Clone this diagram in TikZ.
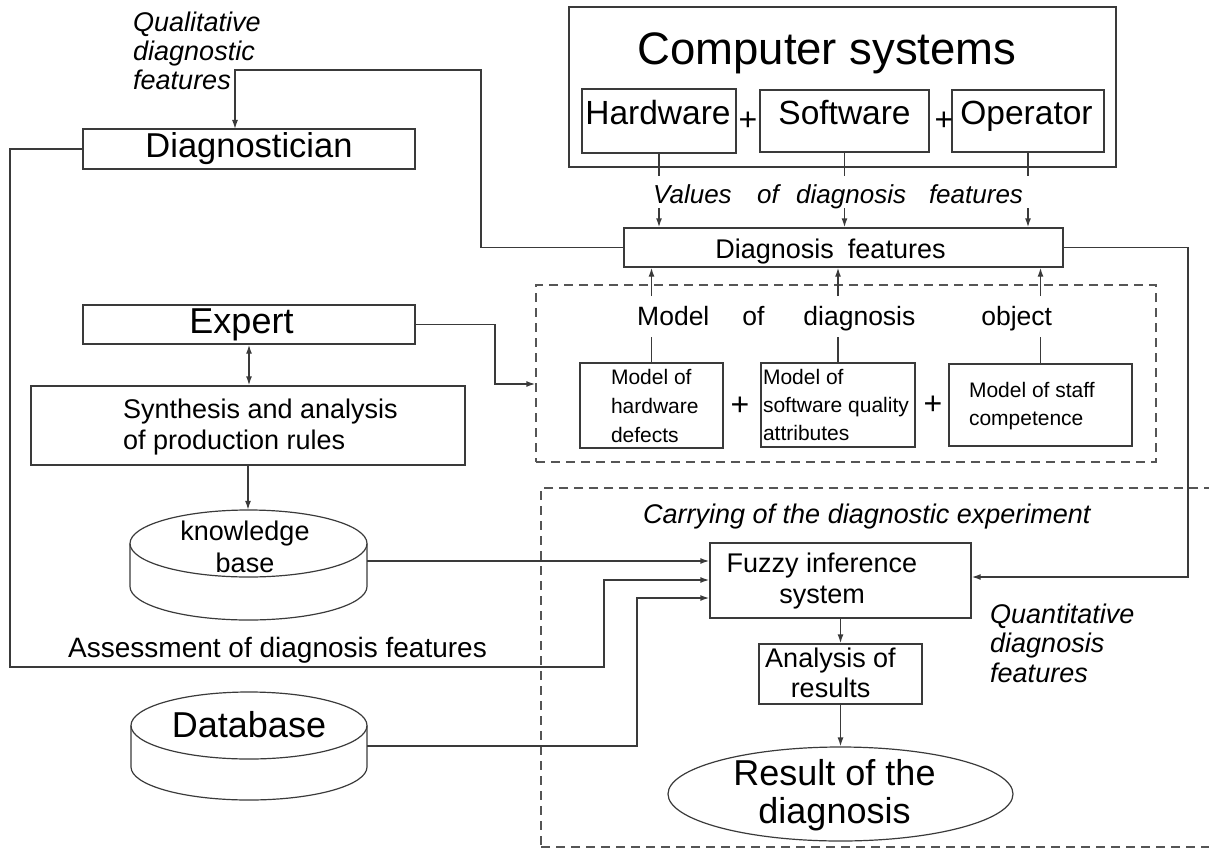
\documentclass[tikz,border=0pt]{standalone}
\usepackage{fontspec}
\setmainfont{Liberation Sans}
\usetikzlibrary{arrows.meta,shapes.geometric}
\definecolor{linec}{HTML}{3A3A3A}
\definecolor{dashc}{HTML}{555555}
\newcommand\ctxt[3]{\makebox[0pt][c]{\hspace*{#1}\hspace*{#1}\raisebox{-#2}[0pt][0pt]{#3}}}
\newcommand\ltxt[3]{\makebox[0pt][l]{\hspace*{#1}\raisebox{-#2}[0pt][0pt]{#3}}}
\newcommand\mlines[2]{\begin{tabular}[t]{@{}#1@{}}#2\end{tabular}}
\newcommand\setfs[2]{\fontsize{#1}{#2}\selectfont}
\tikzset{
  box/.style={draw=linec, line width=1.4pt, rectangle, inner sep=0pt},
  arr/.style={draw=linec, line width=1.4pt, -{Latex[length=9pt,width=6pt]}},
  darr/.style={draw=linec, line width=1.4pt, {Latex[length=9pt,width=6pt]}-{Latex[length=9pt,width=6pt]}},
  ln/.style={draw=linec, line width=1.4pt},
  dbox/.style={draw=dashc, line width=1.4pt, dash pattern=on 9pt off 6pt, rectangle, inner sep=0pt},
  lbl/.style={inner sep=0pt, anchor=base west},
  plus/.style={inner sep=0pt, font=\setfs{32}{34}},
}
\begin{document}
\begin{tikzpicture}[x=1pt,y=-1pt]
\useasboundingbox (0,0) rectangle (1209,848);
\clip (0,0) rectangle (1209,848);
% Computer systems
\node[box, minimum width=547, minimum height=160, font=\setfs{45.5}{50}] (cs) at (842.5,87) {\ctxt{-15.5pt}{-22pt}{Computer systems}};
\node[box, minimum width=154, minimum height=64, font=\setfs{33.5}{36}] (hw) at (659,121) {\ctxt{-1pt}{4pt}{Hardware}};
\node[box, minimum width=169, minimum height=62, font=\setfs{33.5}{36}] (sw) at (844.5,121) {\ctxt{0pt}{4pt}{Software}};
\node[box, minimum width=152, minimum height=62, font=\setfs{33.5}{36}] (op) at (1028,121) {\ctxt{-1.5pt}{4pt}{Operator}};
\node[plus] (p1) at (748,121) {+};
\node[plus] (p2) at (944,121) {+};
\node[lbl, font=\setfs{26}{29}\itshape] (vals) at (653,203) {Values\hspace{25.5pt}of\hspace{17.3pt}diagnosis\hspace{23pt}features};
% Diagnosis features
\node[box, minimum width=439, minimum height=39, font=\setfs{27}{30}] (df) at (843.5,247.5) {\ctxt{-13pt}{10.5pt}{Diagnosis\hspace{14pt}features}};
% Left column
\node[lbl, font=\setfs{27}{29}\itshape] (qual) at (133,32) {\mlines{l}{Qualitative\\diagnostic\\features}};
\node[box, minimum width=332, minimum height=40, font=\setfs{34.5}{38}] (dg) at (249,149) {\ctxt{0pt}{9pt}{Diagnostician}};
\node[box, minimum width=332, minimum height=39, font=\setfs{36}{40}] (ex) at (249,324.5) {\ctxt{-7.5pt}{8.5pt}{Expert}};
\node[box, minimum width=434, minimum height=79, font=\setfs{27}{31}] (sy) at (248,425.5) {\ltxt{-125pt}{-7.5pt}{\mlines{l}{Synthesis and analysis\\of production rules}}};
% knowledge base cylinder
\node[inner sep=0pt, minimum width=237, minimum height=110, font=\setfs{27}{32}] (kb) at (248.5,565) {\ctxt{-3.5pt}{-25pt}{\mlines{c}{knowledge\\base}}};
\draw[ln, line width=1.2pt] (248.5,543.5) ellipse [x radius=118.5pt, y radius=33.5pt];
\draw[ln, line width=1.2pt] (130,543.5) -- (130,586.5) arc[start angle=180, end angle=360, x radius=118.5pt, y radius=33.5pt] -- (367,543.5);
% Database cylinder
\node[inner sep=0pt, minimum width=236, minimum height=108, font=\setfs{36}{40}] (db) at (249,746) {\ctxt{0pt}{-9pt}{Database}};
\draw[ln, line width=1.2pt] (249,725.5) ellipse [x radius=118pt, y radius=33.5pt];
\draw[ln, line width=1.2pt] (131,725.5) -- (131,767) arc[start angle=180, end angle=360, x radius=118pt, y radius=33pt] -- (367,725.5);
\node[lbl, font=\setfs{28}{30}] (assess) at (68,657) {Assessment of diagnosis features};
% Model of diagnosis object
\node[dbox, minimum width=620, minimum height=177] (mdl) at (846,373.5) {};
\node[lbl, font=\setfs{26.5}{30}] (mtitle) at (637,325) {Model\hspace{33pt}of\hspace{39pt}diagnosis\hspace{66pt}object};
\node[box, minimum width=143, minimum height=85, font=\setfs{21}{29}] (m1) at (651.5,405.5) {\ltxt{-40.5pt}{-21.5pt}{\mlines{l}{Model of\\hardware\\defects}}};
\node[box, minimum width=154, minimum height=84, font=\setfs{21}{28}] (m2) at (838,405) {\ltxt{-75pt}{-21pt}{\mlines{l}{Model of\\software quality\\attributes}}};
\node[box, minimum width=183, minimum height=82, font=\setfs{21}{28}] (m3) at (1040.5,405) {\ltxt{-71.5pt}{-8pt}{\mlines{l}{Model of staff\\competence}}};
\node[plus] (p3) at (740,406) {+};
\node[plus] (p4) at (933,405) {+};
% Experiment region
\node[dbox, minimum width=674, minimum height=359] (expr) at (878,667.5) {};
\node[lbl, font=\setfs{27}{30}\itshape] (carry) at (643,523) {Carrying of the diagnostic experiment};
\node[box, minimum width=261, minimum height=75, font=\setfs{27}{31}] (fz) at (840.5,580.5) {\ctxt{-18.5pt}{-8.5pt}{\mlines{c}{Fuzzy inference\\system}}};
\node[box, minimum width=163, minimum height=60, font=\setfs{27}{30}] (an) at (840.5,674) {\ctxt{-10pt}{-7pt}{\mlines{c}{Analysis of\\results}}};
\node[ellipse, draw=linec, line width=1.2pt, inner sep=0pt, minimum width=345, minimum height=94, font=\setfs{36}{38}] (res) at (840.5,794) {\ctxt{-6pt}{-9pt}{\mlines{c}{Result of the\\diagnosis}}};
\node[lbl, font=\setfs{27}{29.5}\itshape] (quant) at (990,623) {\mlines{l}{Quantitative\\diagnosis\\features}};
% coordinates
\coordinate (v1) at (659,176); \coordinate (v1b) at (659,208);
\coordinate (v2) at (844.5,176); \coordinate (v2b) at (844.5,208);
\coordinate (v3) at (1028,176); \coordinate (v3b) at (1028,208);
\coordinate (u1) at (651.5,296); \coordinate (u1b) at (651.5,337);
\coordinate (u2) at (838,296); \coordinate (u2b) at (838,337);
\coordinate (u3) at (1040.5,296); \coordinate (u3b) at (1040.5,337);
\coordinate (q1) at (481,70); \coordinate (q2) at (235,129);
\coordinate (e1) at (495,384);
\coordinate (r1) at (1188,577);
\coordinate (a1) at (10,667); \coordinate (a2) at (604,580);
\coordinate (d1) at (637,598);
% connectors
\draw[ln] (hw.south) -- (v1); \draw[arr] (v1b) -- (v1b |- df.north);
\draw[ln] (sw.south) -- (v2); \draw[arr] (v2b) -- (v2b |- df.north);
\draw[ln] (op.south) -- (v3); \draw[arr] (v3b) -- (v3b |- df.north);
\draw[ln] (m1.north) -- (u1b); \draw[arr] (u1) -- (u1 |- df.south);
\draw[ln] (m2.north) -- (u2b); \draw[arr] (u2) -- (u2 |- df.south);
\draw[ln] (m3.north) -- (u3b); \draw[arr] (u3) -- (u3 |- df.south);
\draw[arr] (df.west) -| (q1) -| (q2);
\draw[arr] (ex.east) -| (e1) -- (e1 -| mdl.west);
\draw[darr] (ex.south) -- (ex.south |- sy.north);
\draw[arr] (sy.south) -- (sy.south |- kb.north);
\draw[arr] (df.east) -| (r1) -- (r1 -| fz.east);
\draw[arr] ([yshift=4pt]kb.east) -- ([yshift=4pt]kb.east -| fz.west);
\draw[arr] (dg.west) -| (a1) -| (a2) -- (a2 -| fz.west);
\draw[arr] (db.east) -| (d1) -- (d1 -| fz.west);
\draw[arr] (fz.south) -- (an.north);
\draw[arr] (an.south) -- (res.north);
\end{tikzpicture}
\end{document}
